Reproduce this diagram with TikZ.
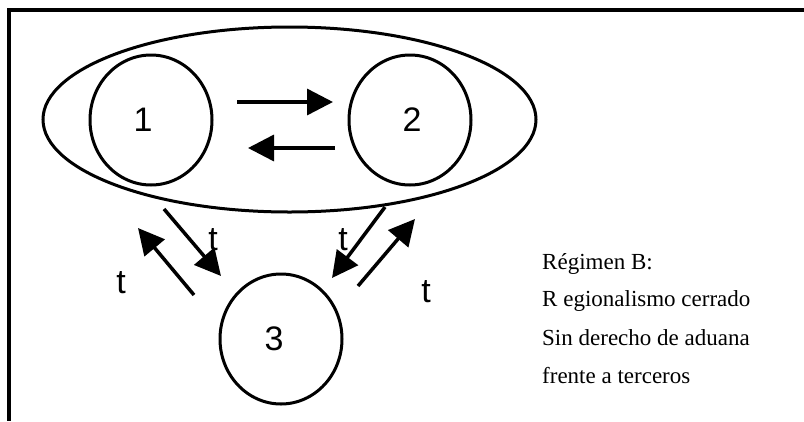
\documentclass[tikz,border=0pt]{standalone}
\usepackage{fontspec}
\setmainfont{Liberation Serif}
\newfontfamily\arialfont{Liberation Sans}
\usetikzlibrary{arrows.meta,shapes.geometric}

\begin{document}
\begin{tikzpicture}[x=1pt,y=-1pt,
  pais/.style={draw,ellipse,line width=3pt,minimum width=122pt,minimum height=130pt,inner sep=0pt},
  flecha/.style={line width=3.5pt,-{Triangle[length=26pt,width=26pt]}},
  cifra/.style={font=\arialfont\fontsize{34}{34}\selectfont,inner sep=0pt},
  texto/.style={font=\fontsize{23}{27}\selectfont,anchor=base west,inner sep=0pt}]
\useasboundingbox (0,0) rectangle (804,421);
\draw[line width=3.5pt] (804,10) -- (9,10) -- (9,421);
\draw(289.5,119.5) node[pais,minimum width=493pt,minimum height=185pt] (bloque) {};
\draw(151,120) node[pais] (pais1) {};
\draw(410,120) node[pais] (pais2) {};
\draw(281,339) node[pais] (pais3) {};
\draw(143,120) node[cifra] (n1) {1};
\draw(412,120) node[cifra] (n2) {2};
\draw(274,339) node[cifra] (n3) {3};
\draw(121,283) node[cifra] (t1) {t};
\draw(213,240) node[cifra] (t2) {t};
\draw(343,240) node[cifra] (t3) {t};
\draw(426,292) node[cifra] (t4) {t};
\coordinate (a1) at (237,102);
\coordinate (b1) at (333,102);
\coordinate (a2) at (335,148);
\coordinate (b2) at (248,148);
\coordinate (a3) at (164,209);
\coordinate (b3) at (221,276);
\coordinate (a4) at (194,295);
\coordinate (b4) at (138,228);
\coordinate (a5) at (385,207);
\coordinate (b5) at (332,278);
\coordinate (a6) at (358,286);
\coordinate (b6) at (415,219);
\draw[flecha] (a1) -- (b1);
\draw[flecha] (a2) -- (b2);
\draw[flecha] (a3) -- (b3);
\draw[flecha] (a4) -- (b4);
\draw[flecha] (a5) -- (b5);
\draw[flecha] (a6) -- (b6);
\draw(542,269) node[texto] (linea1) {Régimen B:};
\draw(542,306) node[texto] (linea2) {R egionalismo cerrado};
\draw(542,345) node[texto] (linea3) {Sin derecho de aduana};
\draw(542,383) node[texto] (linea4) {frente a terceros};
\end{tikzpicture}
\end{document}
